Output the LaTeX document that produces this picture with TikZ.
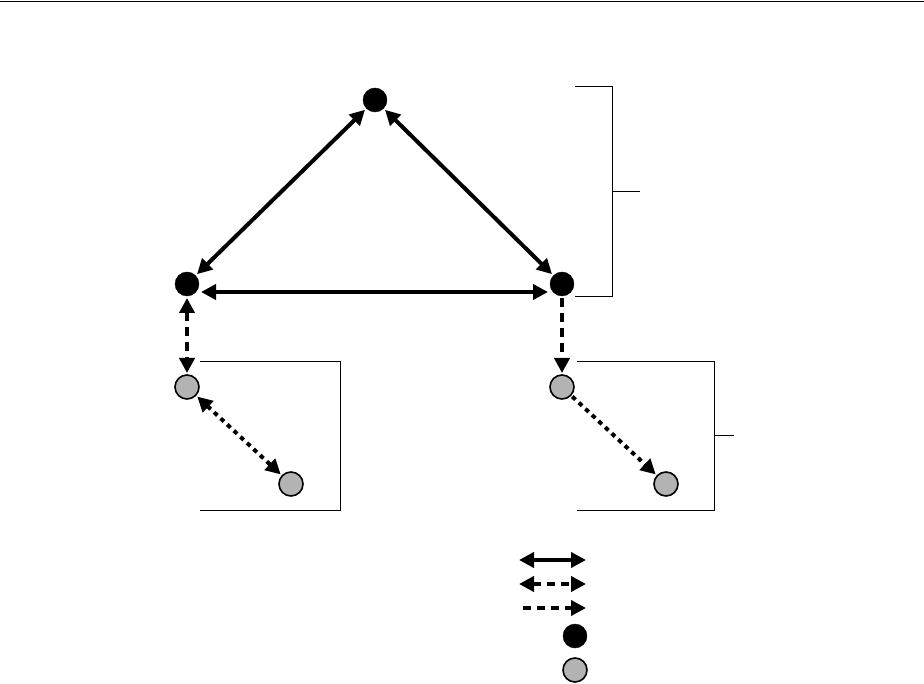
\documentclass[tikz,border=0pt]{standalone}
\usepackage{tikz}
\usetikzlibrary{arrows.meta}
\definecolor{nodegray}{RGB}{179,179,179}
\tikzset{
  topdot/.style  = {circle, fill=black, draw=black, inner sep=0pt, minimum size=24pt, outer sep=2pt},
  subdot/.style  = {circle, fill=nodegray, draw=black, line width=1.6pt, inner sep=0pt, minimum size=24pt, outer sep=2pt},
  link/.style    = {line width=4pt, -{Triangle[length=15pt,width=15pt]}},
  twoway/.style  = {link, {Triangle[length=15pt,width=15pt]}-{Triangle[length=15pt,width=15pt]}},
  dashedlink/.style = {dash pattern=on 9pt off 6pt},
  dottedlink/.style = {dash pattern=on 4.5pt off 4.5pt},
  bracket/.style = {line width=1pt},
}
\begin{document}
\begin{tikzpicture}[x=1pt,y=-1pt]
\useasboundingbox (0,0) rectangle (924,684);

% --- rule at the top ----------------------------------------------------
\draw[line width=1.5pt] (0,1.5) -- (924,1.5);

% --- upper level --------------------------------------------------------
\node[topdot] (apex)  at (375,100) {};
\node[topdot] (left)  at (187,284) {};
\node[topdot] (right) at (562,284) {};

% --- lower level --------------------------------------------------------
\node[subdot] (leftsub)   at (187,387) {};
\node[subdot] (leftleaf)  at (291,484) {};
\node[subdot] (rightsub)  at (562,387) {};
\node[subdot] (rightleaf) at (666,484) {};

% --- links --------------------------------------------------------------
\draw[twoway] (apex) -- (left);
\draw[twoway] (apex) -- (right);
\draw[twoway] ([yshift=-8pt]left.east) -- ([yshift=-8pt]right.west);
\draw[twoway, dashedlink] (left) -- (leftsub);
\draw[link, dashedlink] (right) -- (rightsub);
\draw[twoway, dottedlink] (leftsub) -- (leftleaf);
\draw[link, dottedlink] (rightsub) -- (rightleaf);

% --- brackets -----------------------------------------------------------
\draw[bracket] (575,87) -- (612,87) -- (612,297) -- (575,297);
\draw[bracket] (612,192) -- (640,192);
\draw[bracket] (200,362) -- (340,362) -- (340,510) -- (200,510);
\draw[bracket] (577,362) -- (714,362) -- (714,510) -- (577,510);
\draw[bracket] (714,436) -- (734,436);

% --- legend -------------------------------------------------------------
\coordinate (solidA) at (519,560);  \coordinate (solidB) at (586,560);
\coordinate (dashA)  at (519,584);  \coordinate (dashB)  at (586,584);
\coordinate (oneA)   at (523,608);  \coordinate (oneB)   at (586,608);
\draw[twoway] (solidA) -- (solidB);
\draw[twoway, dash pattern=on 8pt off 6pt] (dashA) -- (dashB);
\draw[link, dash pattern=on 8pt off 6pt] (oneA) -- (oneB);
\node[topdot] (keytop) at (575,636) {};
\node[subdot] (keysub) at (575,670) {};

\end{tikzpicture}
\end{document}
